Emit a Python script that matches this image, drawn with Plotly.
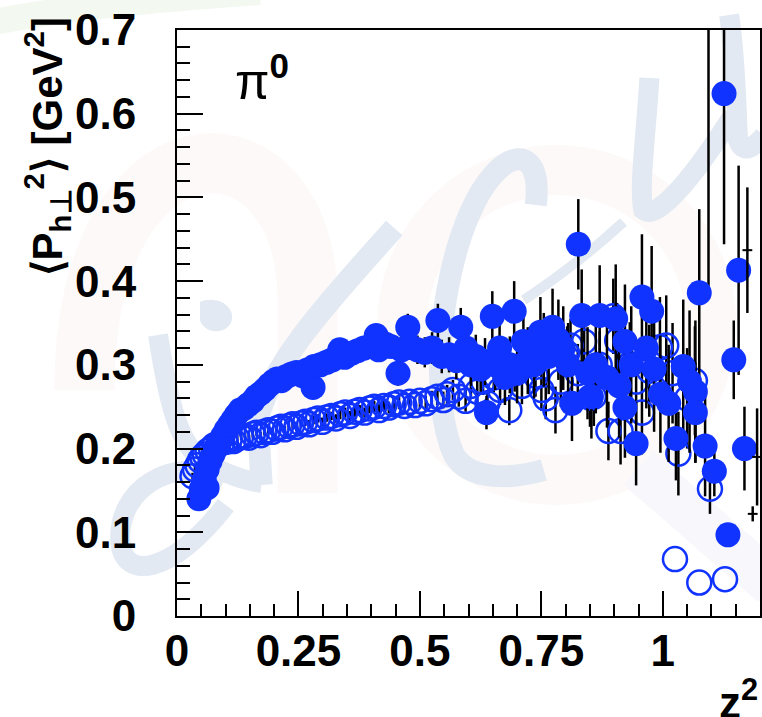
import plotly.graph_objects as go

# ---------------- data ----------------
# filled circles: z^2, <P_h_perp^2>, stat. error
fill_z2 = [0.045, 0.050, 0.056, 0.062, 0.062, 0.068, 0.074, 0.080, 0.087, 0.094,
           0.101, 0.108, 0.115, 0.122, 0.130, 0.138, 0.146, 0.155, 0.163, 0.172,
           0.180, 0.190, 0.198, 0.206, 0.215, 0.225, 0.236, 0.246, 0.258, 0.268,
           0.280, 0.282, 0.295, 0.308, 0.320, 0.335, 0.345, 0.360, 0.372, 0.385,
           0.398, 0.410, 0.415, 0.428, 0.440, 0.455, 0.462, 0.475, 0.480, 0.495,
           0.510, 0.525, 0.537, 0.545, 0.560, 0.575, 0.584, 0.595, 0.605, 0.615,
           0.625, 0.634, 0.637, 0.649, 0.655, 0.664, 0.675, 0.685, 0.694, 0.700,
           0.713, 0.722, 0.735, 0.748, 0.755, 0.765, 0.773, 0.785, 0.795, 0.805,
           0.813, 0.826, 0.833, 0.845, 0.853, 0.862, 0.870, 0.885, 0.903, 0.910,
           0.922, 0.922, 0.935, 0.945, 0.957, 0.966, 0.977, 0.982, 0.995, 1.012,
           1.027, 1.042, 1.055, 1.067, 1.067, 1.075, 1.087, 1.094, 1.106, 1.126,
           1.134, 1.146, 1.156, 1.168]
fill_pt2 = [0.140, 0.152, 0.163, 0.153, 0.175, 0.185, 0.193, 0.200, 0.208, 0.215,
            0.222, 0.228, 0.234, 0.240, 0.246, 0.248, 0.252, 0.256, 0.262, 0.266,
            0.270, 0.276, 0.280, 0.283, 0.281, 0.286, 0.289, 0.291, 0.287, 0.294,
            0.273, 0.298, 0.300, 0.303, 0.306, 0.318, 0.309, 0.314, 0.317, 0.320,
            0.322, 0.335, 0.318, 0.325, 0.322, 0.290, 0.318, 0.345, 0.322, 0.318,
            0.315, 0.320, 0.353, 0.310, 0.312, 0.305, 0.345, 0.320, 0.300, 0.310,
            0.295, 0.304, 0.243, 0.358, 0.300, 0.320, 0.285, 0.300, 0.364, 0.290,
            0.328, 0.305, 0.300, 0.339, 0.318, 0.310, 0.345, 0.330, 0.320, 0.300,
            0.254, 0.444, 0.359, 0.290, 0.262, 0.300, 0.359, 0.285, 0.355, 0.275,
            0.328, 0.249, 0.300, 0.206, 0.381, 0.320, 0.364, 0.295, 0.265, 0.254,
            0.212, 0.298, 0.280, 0.268, 0.243, 0.386, 0.203, 0.780, 0.173, 0.624,
            0.097, 0.306, 0.413, 0.200]
fill_err = [0.004, 0.004, 0.004, 0.005, 0.004, 0.004, 0.004, 0.004, 0.004, 0.004,
            0.004, 0.004, 0.005, 0.005, 0.005, 0.005, 0.005, 0.005, 0.005, 0.006,
            0.006, 0.006, 0.006, 0.006, 0.006, 0.007, 0.007, 0.007, 0.007, 0.008,
            0.008, 0.008, 0.008, 0.009, 0.009, 0.010, 0.010, 0.010, 0.011, 0.011,
            0.012, 0.012, 0.013, 0.013, 0.014, 0.015, 0.015, 0.016, 0.016, 0.017,
            0.018, 0.019, 0.020, 0.020, 0.021, 0.022, 0.023, 0.024, 0.025, 0.026,
            0.027, 0.028, 0.020, 0.030, 0.030, 0.032, 0.033, 0.034, 0.036, 0.036,
            0.038, 0.040, 0.040, 0.042, 0.044, 0.045, 0.046, 0.048, 0.050, 0.050,
            0.045, 0.054, 0.055, 0.055, 0.050, 0.058, 0.060, 0.060, 0.065, 0.062,
            0.068, 0.060, 0.070, 0.050, 0.075, 0.072, 0.078, 0.075, 0.070, 0.070,
            0.050, 0.080, 0.085, 0.085, 0.060, 0.100, 0.060, 0.390, 0.030, 0.180,
            0.010, 0.047, 0.125, 0.050]

# open circles: z^2, <P_h_perp^2>, stat. error
open_z2 = [0.032, 0.037, 0.042, 0.047, 0.052, 0.057, 0.063, 0.070, 0.077, 0.085,
           0.093, 0.100, 0.108, 0.116, 0.124, 0.132, 0.140, 0.148, 0.156, 0.164,
           0.172, 0.180, 0.188, 0.196, 0.205, 0.214, 0.222, 0.230, 0.238, 0.246,
           0.255, 0.264, 0.272, 0.281, 0.290, 0.299, 0.308, 0.318, 0.327, 0.336,
           0.346, 0.356, 0.366, 0.376, 0.386, 0.396, 0.406, 0.416, 0.426, 0.436,
           0.446, 0.457, 0.468, 0.479, 0.490, 0.500, 0.512, 0.524, 0.536, 0.548,
           0.556, 0.568, 0.580, 0.594, 0.605, 0.618, 0.630, 0.639, 0.652, 0.665,
           0.684, 0.695, 0.710, 0.722, 0.738, 0.750, 0.759, 0.779, 0.790, 0.803,
           0.810, 0.825, 0.838, 0.850, 0.858, 0.870, 0.888, 0.898, 0.906, 0.913,
           0.932, 0.945, 0.957, 0.972, 0.994, 1.007, 1.020, 1.025, 1.032, 1.050,
           1.066, 1.075, 1.097, 1.128]
open_pt2 = [0.167, 0.175, 0.180, 0.186, 0.190, 0.193, 0.197, 0.200, 0.204, 0.205,
            0.207, 0.208, 0.210, 0.209, 0.212, 0.214, 0.215, 0.213, 0.217, 0.219,
            0.216, 0.220, 0.222, 0.220, 0.224, 0.226, 0.223, 0.227, 0.229, 0.226,
            0.230, 0.232, 0.229, 0.234, 0.236, 0.232, 0.237, 0.239, 0.236, 0.241,
            0.243, 0.239, 0.244, 0.246, 0.243, 0.248, 0.250, 0.246, 0.251, 0.249,
            0.253, 0.255, 0.251, 0.256, 0.252, 0.257, 0.254, 0.259, 0.262, 0.258,
            0.265, 0.270, 0.262, 0.257, 0.275, 0.268, 0.280, 0.254, 0.285, 0.270,
            0.246, 0.290, 0.275, 0.300, 0.287, 0.270, 0.260, 0.246, 0.280, 0.314,
            0.323, 0.290, 0.328, 0.261, 0.262, 0.300, 0.221, 0.358, 0.329, 0.221,
            0.301, 0.280, 0.243, 0.293, 0.321, 0.323, 0.290, 0.068, 0.194, 0.260,
            0.281, 0.040, 0.152, 0.044]
open_err = [0.004, 0.004, 0.004, 0.004, 0.004, 0.004, 0.004, 0.004, 0.004, 0.004,
            0.004, 0.004, 0.004, 0.004, 0.004, 0.004, 0.004, 0.004, 0.004, 0.004,
            0.004, 0.004, 0.004, 0.004, 0.004, 0.004, 0.004, 0.005, 0.005, 0.005,
            0.005, 0.005, 0.005, 0.005, 0.005, 0.005, 0.005, 0.005, 0.005, 0.006,
            0.006, 0.006, 0.006, 0.006, 0.006, 0.006, 0.007, 0.007, 0.007, 0.007,
            0.007, 0.008, 0.008, 0.008, 0.008, 0.009, 0.009, 0.010, 0.010, 0.010,
            0.011, 0.012, 0.012, 0.013, 0.014, 0.015, 0.016, 0.016, 0.018, 0.018,
            0.018, 0.022, 0.022, 0.025, 0.025, 0.025, 0.025, 0.028, 0.030, 0.032,
            0.032, 0.035, 0.038, 0.035, 0.035, 0.040, 0.035, 0.045, 0.045, 0.040,
            0.050, 0.050, 0.050, 0.055, 0.060, 0.060, 0.060, 0.000, 0.050, 0.060,
            0.065, 0.000, 0.030, 0.000]

# points drawn only as a short bar with their error
bar_z2 = [1.174, 1.185, 1.194]
bar_pt2 = [0.437, 0.122, 0.190]
bar_err = [0.075, 0.009, 0.058]

x_tickvals = [0, 0.25, 0.5, 0.75, 1]
x_ticktext = ["0", "0.25", "0.5", "0.75", "1"]
y_tickvals = [0, 0.1, 0.2, 0.3, 0.4, 0.5, 0.6, 0.7]
y_ticktext = ["0", "0.1", "0.2", "0.3", "0.4", "0.5", "0.6", "0.7"]

# ---------------- page geometry ----------------
W, H = 762, 717
ML, MR, MT, MB = 177, 0, 30, 101
PW = W - ML - MR
PH = H - MT - MB

BLUE = "#1033ff"
FONT = "Liberation Sans"


def pxx(v):
    return (v - ML) / PW


def pxy(v):
    return (H - MB - v) / PH


def page_path(cmds):
    parts = []
    for letter, pts in cmds:
        coords = " ".join(f"{pxx(pts[i]):.4f},{pxy(pts[i + 1]):.4f}"
                          for i in range(0, len(pts), 2))
        parts.append(f"{letter} {coords}".strip())
    return " ".join(parts)


# faint background logo
PINK = "#fdf9f8"
LBLUE = "#e2e9f2"
LAV = "#f7f7fc"
GREEN = "#f3f9f1"

shapes = []


def stroke(cmds, color, width):
    shapes.append(dict(type="path", xref="paper", yref="paper", layer="below",
                       path=page_path(cmds), line=dict(color=color, width=width),
                       fillcolor="rgba(0,0,0,0)"))


def blob(cmds, color):
    shapes.append(dict(type="path", xref="paper", yref="paper", layer="below",
                       path=page_path(cmds) + " Z", line=dict(width=0),
                       fillcolor=color))


# pink "h"
blob([("M", [50, -5]), ("L", [117, -5, 117, 493, 50, 493])], PINK)
stroke([("M", [84, 390]), ("C", [84, 105, 308, 105, 308, 300]), ("L", [308, 493])], PINK, 60)
# pink ring
shapes.append(dict(type="circle", xref="paper", yref="paper", layer="below",
                   x0=pxx(558 - 155), x1=pxx(558 + 155), y0=pxy(325 + 155), y1=pxy(325 - 155),
                   line=dict(color=PINK, width=50), fillcolor="rgba(0,0,0,0)"))
# lavender strokes
blob([("M", [575, -5]), ("L", [628, -5, 598, 137, 551, 133])], LAV)
stroke([("M", [640, 468]), ("L", [775, 585])], LAV, 45)
# green swash at the top
stroke([("M", [-5, 22]), ("C", [60, 8, 150, 0, 260, -8])], GREEN, 26)
# light-blue handwriting
stroke([("M", [395, 228]), ("C", [340, 290, 272, 360, 258, 420]), ("L", [262, 485])], LBLUE, 22)
stroke([("M", [158, 335]), ("C", [168, 400, 178, 440, 198, 456]), ("C", [215, 470, 240, 480, 262, 483])], LBLUE, 20)
blob([("M", [200, 302]), ("C", [215, 295, 235, 305, 232, 320]), ("C", [228, 335, 205, 335, 200, 320])], LBLUE)
stroke([("M", [225, 478]), ("C", [170, 455, 118, 490, 120, 540]), ("C", [122, 582, 172, 575, 226, 505])], LBLUE, 20)
stroke([("M", [537, 205]), ("C", [545, 140, 500, 145, 470, 215]), ("C", [440, 285, 430, 400, 455, 455]),
        ("C", [470, 480, 510, 480, 545, 470])], LBLUE, 22)
stroke([("M", [525, 300]), ("C", [570, 270, 600, 245, 625, 222])], LBLUE, 10)
stroke([("M", [651, 78]), ("C", [648, 130, 640, 190, 645, 210]), ("C", [660, 222, 700, 170, 735, 115])], LBLUE, 20)
stroke([("M", [731, 15]), ("C", [738, 60, 738, 110, 740, 140]), ("C", [745, 155, 755, 148, 766, 136])], LBLUE, 20)

# ---------------- traces ----------------
err_style = dict(type="data", color="black", thickness=2.5, width=0)

fig = go.Figure()
fig.add_trace(go.Scatter(
    x=open_z2, y=open_pt2, mode="markers",
    marker=dict(symbol="circle-open", size=24, color=BLUE, line=dict(color=BLUE, width=2.5)),
    error_y=dict(array=open_err, **err_style), showlegend=False))
fig.add_trace(go.Scatter(
    x=fill_z2, y=fill_pt2, mode="markers",
    marker=dict(symbol="circle", size=25, color=BLUE, line=dict(width=0)),
    error_y=dict(array=fill_err, **err_style), showlegend=False))
fig.add_trace(go.Scatter(
    x=bar_z2, y=bar_pt2, mode="markers",
    marker=dict(symbol="line-ew", size=7, color="black", line=dict(color="black", width=2)),
    error_y=dict(array=bar_err, **err_style), showlegend=False))

tick_font = dict(family=FONT, size=44, color="black", weight="bold")
axis_common = dict(showline=True, linewidth=2, linecolor="black", mirror=True,
                   ticks="inside", tickwidth=2, tickcolor="black", showgrid=False,
                   zeroline=False, tickfont=tick_font, tickmode="array")

fig.update_layout(
    width=W, height=H,
    margin=dict(l=ML, r=MR, t=MT, b=MB, pad=0),
    paper_bgcolor="white", plot_bgcolor="rgba(0,0,0,0)",
    shapes=shapes,
    xaxis=dict(range=[0, 1.2], tickvals=x_tickvals, ticktext=x_ticktext, ticklen=25,
               ticklabelstandoff=-5,
               minor=dict(dtick=0.05, tick0=0, ticks="inside", ticklen=12, tickwidth=2,
                          tickcolor="black", showgrid=False),
               **axis_common),
    yaxis=dict(range=[0, 0.7], tickvals=y_tickvals, ticktext=y_ticktext, ticklen=26,
               ticklabelstandoff=30,
               minor=dict(dtick=0.02, tick0=0, ticks="inside", ticklen=13, tickwidth=2,
                          tickcolor="black", showgrid=False),
               **axis_common),
    annotations=[
        dict(text="\u27e8P<sub>h\u22a5</sub><sup>2</sup>\u27e9 [GeV<sup>2</sup>]",
             textangle=-90, xref="paper", yref="paper",
             x=pxx(46), y=pxy(147), xanchor="center", yanchor="middle", showarrow=False,
             font=dict(family=FONT, size=42, color="black", weight="bold")),
        dict(text="z<sup>2</sup>", xref="paper", yref="paper",
             x=1.0, y=pxy(729), xanchor="right", yanchor="bottom", showarrow=False,
             font=dict(family=FONT, size=44, color="black", weight="bold")),
        dict(text="\u03c0<sup><b>0</b></sup>", xref="paper", yref="paper",
             x=pxx(233), y=pxy(112), xanchor="left", yanchor="bottom", showarrow=False,
             font=dict(family=FONT, size=50, color="black")),
    ],
)

fig.write_html("out.html")
